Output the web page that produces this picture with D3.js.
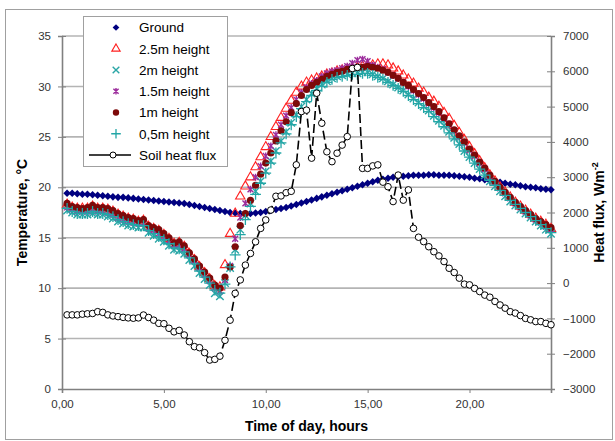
<!DOCTYPE html>
<html>
<head>
<meta charset="utf-8">
<script src="https://cdn.jsdelivr.net/npm/d3@7"></script>
<style>
  body { margin: 0; background: #fff; }
  svg text { font-family: "Liberation Sans", Arial, sans-serif; }
</style>
</head>
<body>
<svg id="chart" width="615" height="441"></svg>
<script>
// sampling times: one reading every 15 minutes
var hours = d3.range(1, 97).map(function(i){ return i * 0.25; });

var ground = [
	19.4, 19.4, 19.35, 19.3, 19.3, 19.25, 19.2, 19.15,
	19.1, 19.05, 19.0, 19.0, 18.95, 18.9, 18.85, 18.8,
	18.75, 18.7, 18.65, 18.6, 18.55, 18.5, 18.45, 18.4,
	18.3, 18.2, 18.1, 18.0, 17.9, 17.8, 17.7, 17.6,
	17.5, 17.45, 17.4, 17.4, 17.4, 17.45, 17.5, 17.6,
	17.7, 17.8, 17.9, 18.0, 18.15, 18.3, 18.45, 18.6,
	18.75, 18.9, 19.05, 19.2, 19.35, 19.5, 19.65, 19.8,
	19.95, 20.1, 20.25, 20.4, 20.55, 20.7, 20.8, 20.9,
	21.0, 21.05, 21.1, 21.15, 21.2, 21.2, 21.2, 21.25,
	21.25, 21.2, 21.2, 21.2, 21.15, 21.1, 21.05, 21.0,
	20.9, 20.85, 20.75, 20.65, 20.55, 20.5, 20.4, 20.3,
	20.25, 20.15, 20.05, 20.0, 19.95, 19.85, 19.8, 19.75];
var h25 = [
	18.3, 18.0, 17.9, 17.9, 17.9, 18.1, 17.9, 17.9,
	17.8, 17.6, 17.3, 17.1, 16.9, 16.8, 16.6, 16.7,
	16.1, 15.9, 15.7, 15.3, 14.9, 14.4, 14.5, 14.1,
	13.4, 12.8, 12.1, 11.5, 10.9, 10.2, 10.1, 12.3,
	15.4, 17.4, 19.1, 20.1, 21.0, 22.0, 23.0, 24.0,
	25.0, 26.0, 26.9, 27.8, 28.6, 29.4, 30.0, 30.4,
	30.6, 30.8, 31.0, 31.2, 31.3, 31.5, 31.6, 31.7,
	31.8, 31.9, 32.0, 32.1, 32.1, 32.2, 32.2, 32.1,
	31.8, 31.5, 31.1, 30.7, 30.3, 29.8, 29.4, 28.9,
	28.5, 28.0, 27.4, 26.8, 26.1, 25.4, 24.7, 24.0,
	23.3, 22.6, 21.9, 21.2, 20.6, 20.0, 19.5, 19.0,
	18.5, 18.1, 17.7, 17.3, 16.9, 16.6, 16.3, 15.9];
var h2 = [
	17.7, 17.5, 17.3, 17.3, 17.3, 17.4, 17.3, 17.3,
	17.1, 16.9, 16.6, 16.4, 16.2, 16.1, 16.0, 16.0,
	15.5, 15.2, 14.9, 14.6, 14.2, 13.8, 13.7, 13.4,
	12.8, 12.2, 11.5, 10.9, 10.3, 9.5, 9.2, 10.5,
	12.0, 13.8, 15.8, 17.2, 18.4, 19.6, 20.6, 21.6,
	22.6, 23.6, 24.6, 25.5, 26.4, 27.2, 28.0, 28.7,
	29.3, 29.8, 30.2, 30.5, 30.8, 31.0, 31.1, 31.2,
	31.3, 31.3, 31.4, 31.4, 31.2, 31.0, 30.8, 30.5,
	30.2, 29.9, 29.6, 29.2, 28.8, 28.4, 28.0, 27.6,
	27.1, 26.6, 26.1, 25.5, 24.9, 24.3, 23.6, 23.0,
	22.4, 21.8, 21.2, 20.6, 20.1, 19.6, 19.1, 18.6,
	18.2, 17.8, 17.4, 17.0, 16.6, 16.2, 15.8, 15.4];
var h15 = [
	18.0, 17.8, 17.6, 17.6, 17.6, 17.8, 17.6, 17.6,
	17.5, 17.3, 17.0, 16.8, 16.6, 16.5, 16.4, 16.4,
	15.9, 15.7, 15.4, 15.1, 14.7, 14.3, 14.2, 13.9,
	13.3, 12.7, 12.0, 11.3, 10.7, 10.0, 9.7, 10.8,
	12.2, 14.9, 17.0, 18.4, 19.8, 21.0, 22.1, 23.1,
	24.1, 25.2, 26.2, 27.1, 27.9, 28.7, 29.4, 29.9,
	30.3, 30.6, 31.0, 31.3, 31.5, 31.6, 31.8, 32.0,
	32.3, 32.6, 32.7, 32.5, 32.1, 31.9, 31.7, 31.4,
	31.1, 30.8, 30.4, 30.0, 29.6, 29.2, 28.8, 28.3,
	27.9, 27.4, 26.8, 26.2, 25.6, 25.0, 24.4, 23.7,
	23.1, 22.4, 21.8, 21.1, 20.5, 19.9, 19.4, 18.9,
	18.4, 18.0, 17.6, 17.2, 16.8, 16.5, 16.1, 15.8];
var h1 = [
	18.4, 18.1, 18.0, 17.9, 18.0, 18.2, 18.0, 18.0,
	17.9, 17.7, 17.4, 17.2, 17.0, 16.9, 16.7, 16.8,
	16.2, 16.0, 15.8, 15.4, 15.0, 14.5, 14.6, 14.2,
	13.5, 12.9, 12.2, 11.6, 11.0, 10.3, 10.0, 11.1,
	12.1, 14.1, 16.2, 17.4, 18.7, 20.2, 21.3, 22.4,
	23.4, 24.6, 25.6, 26.5, 27.4, 28.3, 29.1, 29.7,
	30.1, 30.4, 30.7, 31.0, 31.2, 31.4, 31.5, 31.7,
	31.8, 31.9, 31.9, 32.0, 31.9, 31.8, 31.6, 31.4,
	31.1, 30.8, 30.4, 30.1, 29.7, 29.3, 28.9, 28.4,
	28.0, 27.5, 26.9, 26.3, 25.7, 25.1, 24.5, 23.8,
	23.2, 22.5, 21.9, 21.2, 20.6, 20.0, 19.5, 19.0,
	18.5, 18.1, 17.7, 17.3, 16.9, 16.6, 16.3, 16.0];
var h05 = [
	17.9, 17.6, 17.4, 17.4, 17.4, 17.6, 17.4, 17.4,
	17.3, 17.1, 16.8, 16.6, 16.4, 16.3, 16.2, 16.2,
	15.7, 15.4, 15.1, 14.8, 14.4, 14.0, 13.9, 13.6,
	13.0, 12.4, 11.7, 11.1, 10.5, 9.8, 9.5, 10.4,
	12.1, 13.3, 15.3, 16.8, 18.1, 19.3, 20.4, 21.4,
	22.4, 23.4, 24.4, 25.3, 26.2, 27.0, 27.8, 28.5,
	29.1, 29.6, 30.0, 30.4, 30.7, 30.9, 31.0, 31.1,
	31.2, 31.2, 31.3, 31.3, 31.1, 30.9, 30.7, 30.4,
	30.1, 29.8, 29.5, 29.1, 28.7, 28.3, 27.9, 27.5,
	27.0, 26.5, 26.0, 25.4, 24.8, 24.2, 23.6, 23.0,
	22.4, 21.8, 21.2, 20.7, 20.2, 19.7, 19.2, 18.7,
	18.3, 17.9, 17.5, 17.1, 16.7, 16.3, 15.9, 15.5];
var flux = [
	-900, -900, -900, -880, -870, -860, -810, -830,
	-900, -930, -950, -970, -985, -995, -985, -905,
	-975, -1050, -1140, -1150, -1280, -1380, -1340, -1470,
	-1660, -1800, -1830, -1970, -2180, -2160, -2070, -1620,
	-1050, -290, 90, 510, 840, 1170, 1550, 1790,
	2070, 2460, 2470, 2560, 2600, 3350, 4860, 4900,
	3540, 5380, 4530, 3720, 3440, 3680, 3910, 4150,
	6080, 6110, 3250, 3250, 3320, 3350, 2860, 2730,
	2310, 3060, 2350, 2640, 1550, 1300, 1175, 1030,
	890, 770, 610, 420, 300, 140, -30, -50,
	-150, -240, -340, -400, -520, -620, -710, -810,
	-850, -920, -1000, -1040, -1090, -1090, -1140, -1180];

var xTicks = [0, 5, 10, 15, 20];
var tempTicks = [0, 5, 10, 15, 20, 25, 30, 35];
var fluxTicks = [-3000, -2000, -1000, 0, 1000, 2000, 3000, 4000, 5000, 6000, 7000];

// plot box (named so they don't clash with window.top etc.)
var pLeft = 62, pRight = 551, pTop = 36, pBottom = 389;
var svg = d3.select('#chart');

var x = d3.scaleLinear().domain([0, 24]).range([pLeft, pRight]);
var yT = d3.scaleLinear().domain([0, 35]).range([pBottom, pTop]);
var yF = d3.scaleLinear().domain([-3000, 7000]).range([pBottom, pTop]);

// outer frame
svg.append('rect')
	.attr('x', 5.5).attr('y', 9.5).attr('width', 607).attr('height', 430)
	.attr('fill', 'none').attr('stroke', '#a0a0a0').attr('stroke-width', 1);

// gridlines
svg.append('g').selectAll('line').data(tempTicks.slice(1)).enter()
	.append('line')
		.attr('x1', pLeft).attr('x2', pRight)
		.attr('y1', function(d){ return yT(d); })
		.attr('y2', function(d){ return yT(d); })
		.attr('stroke', '#b4b4b4').attr('stroke-width', 1.6);

// axes
var axisColor = '#808080';
var gx = svg.append('g').attr('transform', 'translate(0,' + pBottom + ')')
	.call(d3.axisBottom(x).tickValues(xTicks).tickSize(4).tickPadding(7)
		.tickFormat(function(d){ return d3.format('.2f')(d).replace('.', ','); }));
var gl = svg.append('g').attr('transform', 'translate(' + pLeft + ',0)')
	.call(d3.axisLeft(yT).tickValues(tempTicks).tickSize(4).tickPadding(7));
var gr = svg.append('g').attr('transform', 'translate(' + pRight + ',0)')
	.call(d3.axisRight(yF).tickValues(fluxTicks).tickSize(4).tickPadding(8)
		.tickFormat(d3.format('d')));

[gx, gl, gr].forEach(function(g){
	g.select('.domain').attr('stroke', axisColor).attr('stroke-width', 1.6);
	g.selectAll('.tick line').attr('stroke', axisColor);
	g.selectAll('.tick text').attr('fill', '#333').style('font-size', '11.5px')
		.style('font-family', '"Liberation Sans", Arial, sans-serif');
});
// ticks cross the vertical axes
gl.selectAll('.tick line').attr('x1', 4);
gr.selectAll('.tick line').attr('x1', -4);

// axis titles
svg.append('text')
	.attr('x', (pLeft + pRight) / 2).attr('y', 431)
	.attr('text-anchor', 'middle')
	.style('font-size', '14px').style('font-weight', 'bold')
	.text('Time of day, hours');
svg.append('text')
	.attr('transform', 'translate(27,' + (pTop + pBottom) / 2 + ') rotate(-90)')
	.attr('text-anchor', 'middle')
	.style('font-size', '14px').style('font-weight', 'bold')
	.text('Temperature, °C');
var rt = svg.append('text')
	.attr('transform', 'translate(604,' + (pTop + pBottom) / 2 + ') rotate(-90)')
	.attr('text-anchor', 'middle')
	.style('font-size', '14px').style('font-weight', 'bold');
rt.append('tspan').text('Heat flux, Wm');
rt.append('tspan').attr('dy', -6).style('font-size', '9px').text('-2');

// marker shapes
var starType = {
	draw: function(ctx, size){
		var r = Math.sqrt(size) / 2;
		ctx.moveTo(-r, -r); ctx.lineTo(r, r);
		ctx.moveTo(-r, r); ctx.lineTo(r, -r);
		ctx.moveTo(0, -r * 1.2); ctx.lineTo(0, r * 1.2);
	}
};
var diamondType = d3.symbolDiamond2 || d3.symbolDiamond;

var series = [
	{name: 'Ground', values: ground, type: diamondType, size: 36, fill: '#000080', stroke: 'none', sw: 0},
	{name: '2.5m height', values: h25, type: d3.symbolTriangle, size: 38, fill: 'none', stroke: '#ff2020', sw: 1.1},
	{name: '2m height', values: h2, type: d3.symbolTimes, size: 38, fill: 'none', stroke: '#2aa6a6', sw: 1.4},
	{name: '1.5m height', values: h15, type: starType, size: 34, fill: 'none', stroke: '#9c2c9c', sw: 1.4},
	{name: '1m height', values: h1, type: d3.symbolCircle, size: 40, fill: '#7d0a0a', stroke: 'none', sw: 0},
	{name: '0,5m height', values: h05, type: d3.symbolPlus, size: 40, fill: 'none', stroke: '#22a6a6', sw: 1.3}
];

series.forEach(function(s){
	var sym = d3.symbol().type(s.type).size(s.size);
	svg.append('g').selectAll('path').data(s.values).enter()
		.append('path')
			.attr('transform', function(d, i){ return 'translate(' + x(hours[i]) + ',' + yT(d) + ')'; })
			.attr('d', sym)
			.attr('fill', s.fill)
			.attr('stroke', s.stroke)
			.attr('stroke-width', s.sw);
});

// soil heat flux on the secondary axis
var fluxLine = d3.line()
	.x(function(d, i){ return x(hours[i]); })
	.y(function(d){ return yF(d); });
svg.append('path')
	.datum(flux)
	.attr('d', fluxLine)
	.attr('fill', 'none')
	.attr('stroke', '#000')
	.attr('stroke-width', 1.6)
	.attr('stroke-dasharray', '9,4');
svg.append('g').selectAll('circle').data(flux).enter()
	.append('circle')
		.attr('cx', function(d, i){ return x(hours[i]); })
		.attr('cy', function(d){ return yF(d); })
		.attr('r', 3.3)
		.attr('fill', '#fff')
		.attr('stroke', '#000')
		.attr('stroke-width', 1);

// legend
var lg = svg.append('g');
lg.append('rect')
	.attr('x', 83.5).attr('y', 16.5).attr('width', 144).attr('height', 150)
	.attr('fill', '#fff').attr('stroke', '#a0a0a0');
var rowY = d3.scaleLinear().domain([0, 6]).range([27.5, 155]);
series.forEach(function(s, i){
	lg.append('path')
		.attr('transform', 'translate(116,' + rowY(i) + ')')
		.attr('d', d3.symbol().type(s.type).size(s.size * 0.8)())
		.attr('fill', s.fill).attr('stroke', s.stroke).attr('stroke-width', s.sw);
	lg.append('text')
		.attr('x', 139).attr('y', rowY(i)).attr('dy', '0.36em')
		.style('font-size', '13.5px')
		.text(s.name);
});
lg.append('line')
	.attr('x1', 89).attr('x2', 131).attr('y1', rowY(6)).attr('y2', rowY(6))
	.attr('stroke', '#000').attr('stroke-width', 1.6);
lg.append('circle')
	.attr('cx', 113).attr('cy', rowY(6)).attr('r', 3)
	.attr('fill', '#fff').attr('stroke', '#000');
lg.append('text')
	.attr('x', 139).attr('y', rowY(6)).attr('dy', '0.36em')
	.style('font-size', '13.5px')
	.text('Soil heat flux');
</script>
</body>
</html>
